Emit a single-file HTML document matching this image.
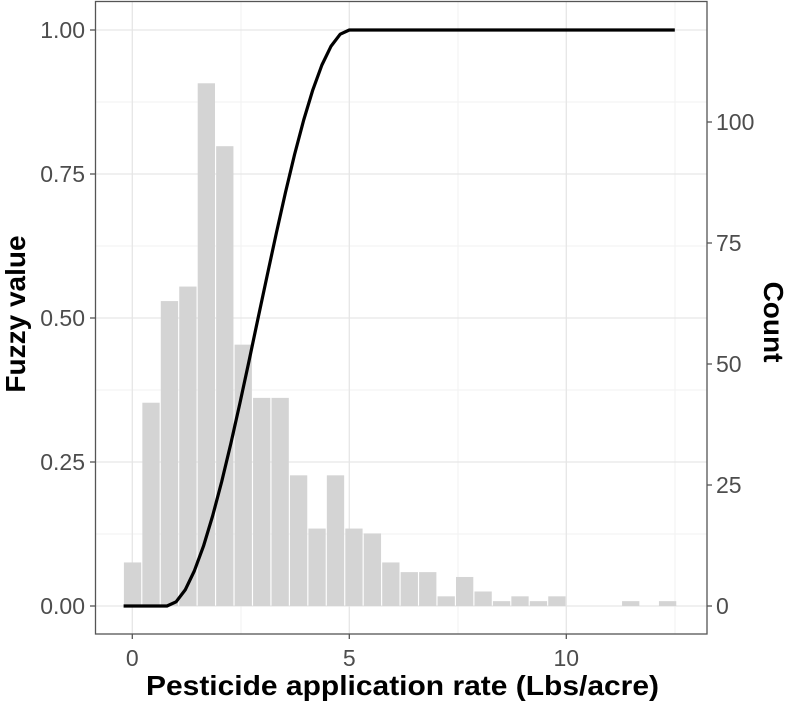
<!DOCTYPE html>
<html><head><meta charset="utf-8"><style>body{margin:0;background:#fff}svg{display:block}</style></head><body>
<svg width="789" height="705" xmlns="http://www.w3.org/2000/svg" font-family="Liberation Sans, sans-serif">
<rect width="789" height="705" fill="#fff"/>
<g stroke="#f2f2f2" stroke-width="1">
<line x1="95" x2="707" y1="534" y2="534"/><line x1="95" x2="707" y1="390" y2="390"/><line x1="95" x2="707" y1="246" y2="246"/><line x1="95" x2="707" y1="102" y2="102"/>
<line x1="241" x2="241" y1="2" y2="634"/><line x1="458" x2="458" y1="2" y2="634"/><line x1="675" x2="675" y1="2" y2="634"/>
</g>
<g stroke="#e6e6e6" stroke-width="1.3">
<line x1="95" x2="707" y1="606" y2="606"/><line x1="95" x2="707" y1="462" y2="462"/><line x1="95" x2="707" y1="318" y2="318"/><line x1="95" x2="707" y1="174" y2="174"/><line x1="95" x2="707" y1="30" y2="30"/>
<line x1="132.3" x2="132.3" y1="2" y2="634"/><line x1="349.3" x2="349.3" y1="2" y2="634"/><line x1="566.3" x2="566.3" y1="2" y2="634"/>
</g>
<g fill="#d4d4d4">
<rect x="123.90" y="562.44" width="17.3" height="43.56"/>
<rect x="142.35" y="402.72" width="17.3" height="203.28"/>
<rect x="160.80" y="301.08" width="17.3" height="304.92"/>
<rect x="179.25" y="286.56" width="17.3" height="319.44"/>
<rect x="197.70" y="83.28" width="17.3" height="522.72"/>
<rect x="216.15" y="146.2" width="17.3" height="459.8"/>
<rect x="234.60" y="344.64" width="17.3" height="261.36"/>
<rect x="253.05" y="397.88" width="17.3" height="208.12"/>
<rect x="271.50" y="397.88" width="17.3" height="208.12"/>
<rect x="289.95" y="475.32" width="17.3" height="130.68"/>
<rect x="308.40" y="528.56" width="17.3" height="77.44"/>
<rect x="326.85" y="475.32" width="17.3" height="130.68"/>
<rect x="345.30" y="528.56" width="17.3" height="77.44"/>
<rect x="363.75" y="533.4" width="17.3" height="72.6"/>
<rect x="382.20" y="562.44" width="17.3" height="43.56"/>
<rect x="400.65" y="572.12" width="17.3" height="33.88"/>
<rect x="419.10" y="572.12" width="17.3" height="33.88"/>
<rect x="437.55" y="596.32" width="17.3" height="9.68"/>
<rect x="456.00" y="576.96" width="17.3" height="29.04"/>
<rect x="474.45" y="591.48" width="17.3" height="14.52"/>
<rect x="492.90" y="601.16" width="17.3" height="4.84"/>
<rect x="511.35" y="596.32" width="17.3" height="9.68"/>
<rect x="529.80" y="601.16" width="17.3" height="4.84"/>
<rect x="548.25" y="596.32" width="17.3" height="9.68"/>
<rect x="622.05" y="601.16" width="17.3" height="4.84"/>
<rect x="658.95" y="601.16" width="17.3" height="4.84"/>
</g>
<path d="M123.6 606 L167 606 L176.1 601.8 L185.2 589.9 L194.3 571 L203.5 546.1 L212.6 516 L221.7 481.6 L230.8 443.7 L239.9 403.2 L249 361.1 L258.1 318 L267.3 274.9 L276.4 232.8 L285.5 192.3 L294.6 154.4 L303.7 120 L312.8 89.9 L321.9 65 L331.1 46.1 L340.2 34.2 L349.3 30 L674.8 30" fill="none" stroke="#000" stroke-width="3.2" stroke-linejoin="round"/>
<rect x="95.5" y="1.5" width="611.5" height="632.5" fill="none" stroke="#555" stroke-width="1.3"/>
<g stroke="#555" stroke-width="1.3">
<line x1="90" x2="95" y1="606" y2="606"/><line x1="90" x2="95" y1="462" y2="462"/><line x1="90" x2="95" y1="318" y2="318"/><line x1="90" x2="95" y1="174" y2="174"/><line x1="90" x2="95" y1="30" y2="30"/>
<line x1="707" x2="712" y1="606" y2="606"/><line x1="707" x2="712" y1="485" y2="485"/><line x1="707" x2="712" y1="364" y2="364"/><line x1="707" x2="712" y1="243" y2="243"/><line x1="707" x2="712" y1="122" y2="122"/>
<line x1="132.3" x2="132.3" y1="634" y2="639"/><line x1="349.3" x2="349.3" y1="634" y2="639"/><line x1="566.3" x2="566.3" y1="634" y2="639"/>
</g>
<g fill="#4d4d4d" font-size="23" text-anchor="end">
<text x="85" y="614">0.00</text><text x="85" y="470">0.25</text><text x="85" y="326">0.50</text><text x="85" y="182">0.75</text><text x="85" y="38">1.00</text>
</g>
<g fill="#4d4d4d" font-size="23" text-anchor="start">
<text x="716" y="614">0</text><text x="716" y="493">25</text><text x="716" y="372">50</text><text x="716" y="251">75</text><text x="716" y="130">100</text>
</g>
<g fill="#4d4d4d" font-size="23" text-anchor="middle">
<text x="132.3" y="666">0</text><text x="349.3" y="666">5</text><text x="566.3" y="666">10</text>
</g>
<text x="146" y="695" font-size="28" font-weight="bold" textLength="513" lengthAdjust="spacingAndGlyphs" fill="#000">Pesticide application rate (Lbs/acre)</text>
<text transform="translate(25,314) rotate(-90)" font-size="28" font-weight="bold" text-anchor="middle" fill="#000">Fuzzy value</text>
<text transform="translate(764,322) rotate(90)" font-size="28" font-weight="bold" text-anchor="middle" fill="#000">Count</text>
</svg>
</body></html>
